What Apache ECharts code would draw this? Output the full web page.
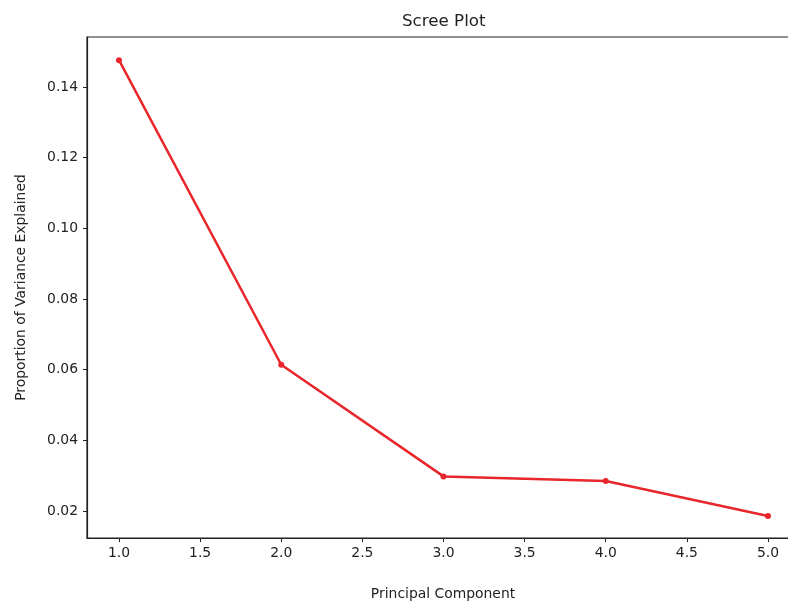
<!DOCTYPE html>
<html><head><meta charset="utf-8">
<script src="https://cdn.jsdelivr.net/npm/echarts@6/dist/echarts.min.js"></script>
<style>html,body{margin:0;padding:0;background:#fff}#c{width:788px;height:603px}</style>
</head><body><div id="c"></div>
<script>
const components = [1, 2, 3, 4, 5];
const varianceExplained = [0.1476, 0.0614, 0.0298, 0.0285, 0.0186];
const yTicks = [0.02, 0.04, 0.06, 0.08, 0.10, 0.12, 0.14];
const xTicks = [1.0, 1.5, 2.0, 2.5, 3.0, 3.5, 4.0, 4.5, 5.0];

const font = 'DejaVu Sans';
const chart = echarts.init(document.getElementById('c'), null, {renderer: 'canvas'});
chart.setOption({
  animation: false,
  backgroundColor: '#fff',
  title: {text: 'Scree Plot', left: 397, top: 8,
    textStyle: {fontFamily: font, fontSize: 16.7, fontWeight: 'normal', color: '#222'}},
  grid: {left: 87, top: 37, right: -11, bottom: 65, show: true, borderColor: '#222', borderWidth: 1.2,
    outerBoundsMode: 'none', containLabel: false},
  xAxis: {
    type: 'value', min: 0.8028, max: 5.1911, interval: 0.5,
    name: 'Principal Component', nameLocation: 'middle', nameGap: 49,
    nameTextStyle: {fontFamily: font, fontSize: 13.9, color: '#222'},
    axisLine: {show: true, lineStyle: {color: '#222', width: 1.2}},
    axisTick: {show: true, length: 4, lineStyle: {color: '#222'}, customValues: xTicks},
    axisLabel: {fontFamily: font, fontSize: 13.9, color: '#222', margin: 8,
      customValues: xTicks, formatter: v => v.toFixed(1)},
    splitLine: {show: false}
  },
  yAxis: {
    type: 'value', min: 0.01236, max: 0.15415,
    name: 'Proportion of Variance Explained', nameLocation: 'middle', nameGap: 59,
    nameTextStyle: {fontFamily: font, fontSize: 13.9, color: '#222'},
    axisLine: {show: true, lineStyle: {color: '#222', width: 1.2}},
    axisTick: {show: true, length: 4, lineStyle: {color: '#222'}, customValues: yTicks},
    axisLabel: {fontFamily: font, fontSize: 13.9, color: '#222', margin: 9,
      customValues: yTicks, formatter: v => v.toFixed(2)},
    splitLine: {show: false}
  },
  series: [{
    type: 'line',
    data: components.map((c, i) => [c, varianceExplained[i]]),
    symbol: 'circle', symbolSize: 6,
    lineStyle: {color: '#e8262b', width: 2.5},
    itemStyle: {color: '#e8262b'}
  }]
});
</script></body></html>
